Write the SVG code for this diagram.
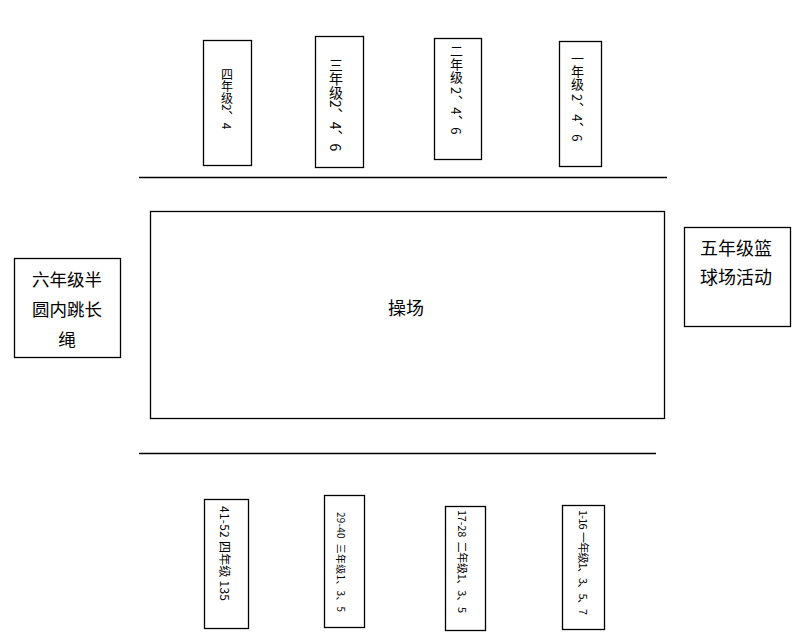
<svg xmlns="http://www.w3.org/2000/svg" width="799" height="641" viewBox="0 0 799 641">
<style>
.box{fill:#fff;stroke:#000;stroke-width:1.3}
.ln{stroke:#000;stroke-width:1.3;fill:none}
text{font-family:"Noto Sans CJK SC","Noto Sans",sans-serif;fill:#000;white-space:pre}
.v{writing-mode:vertical-rl}
.c{text-anchor:middle}
</style>
<rect width="799" height="641" fill="#fff"/>
<g id="connectors">
<line class="ln" x1="139" y1="177.5" x2="667" y2="177.5"/>
<line class="ln" x1="139" y1="453.5" x2="656" y2="453.5"/>
</g>
<g id="playground">
<rect class="box" x="150.5" y="211.5" width="514" height="207"/>
<text class="c" x="406" y="315" font-size="18">操场</text>
</g>
<g id="grade6">
<rect class="box" x="14.5" y="258.5" width="106" height="99"/>
<text class="c" x="67" y="286" font-size="17.5">六年级半</text>
<text class="c" x="67" y="316" font-size="17.5">圆内跳长</text>
<text class="c" x="67" y="346" font-size="17.5">绳</text>
</g>
<g id="grade5">
<rect class="box" x="684.5" y="227.5" width="106" height="99"/>
<text class="c" x="736" y="254.5" font-size="18">五年级篮</text>
<text class="c" x="736" y="283.5" font-size="18">球场活动</text>
</g>
<g id="top4">
<rect class="box" x="203.5" y="40.5" width="48" height="125"/>
<text class="v" x="227" y="68" font-size="12">四年级2、4</text>
</g>
<g id="top3">
<rect class="box" x="315.5" y="36.5" width="48" height="131"/>
<text class="v" x="336" y="58" font-size="14">三年级2、4、6</text>
</g>
<g id="top2">
<rect class="box" x="434.5" y="38.5" width="47" height="121"/>
<text class="v" x="456.5" y="45" font-size="13">二年级 2、4、6</text>
</g>
<g id="top1">
<rect class="box" x="559.5" y="41.5" width="42" height="125"/>
<text class="v" x="577.5" y="52" font-size="13">一年级 2、4、6</text>
</g>
<g id="bot4">
<rect class="box" x="204.5" y="499.5" width="44" height="129"/>
<text transform="translate(224,506) rotate(90)" x="0" y="4.2" font-size="12" textLength="95" lengthAdjust="spacing">41-52 四年级 135</text>
</g>
<g id="bot3">
<rect class="box" x="324.5" y="495.5" width="40" height="132"/>
<text transform="translate(340,512) rotate(90)" x="0" y="3.5" font-size="10" textLength="100" lengthAdjust="spacing">29-40  三年级1、3、5</text>
</g>
<g id="bot2">
<rect class="box" x="445.5" y="506.5" width="40" height="124"/>
<text transform="translate(462,510) rotate(90)" x="0" y="3.8" font-size="11" textLength="103" lengthAdjust="spacing">17-28  二年级1、3、5</text>
</g>
<g id="bot1">
<rect class="box" x="562.5" y="505.5" width="42" height="124"/>
<text transform="translate(582.5,510) rotate(90)" x="0" y="3.8" font-size="11" textLength="105" lengthAdjust="spacing">1-16  一年级1、3、5、7</text>
</g>
</svg>
